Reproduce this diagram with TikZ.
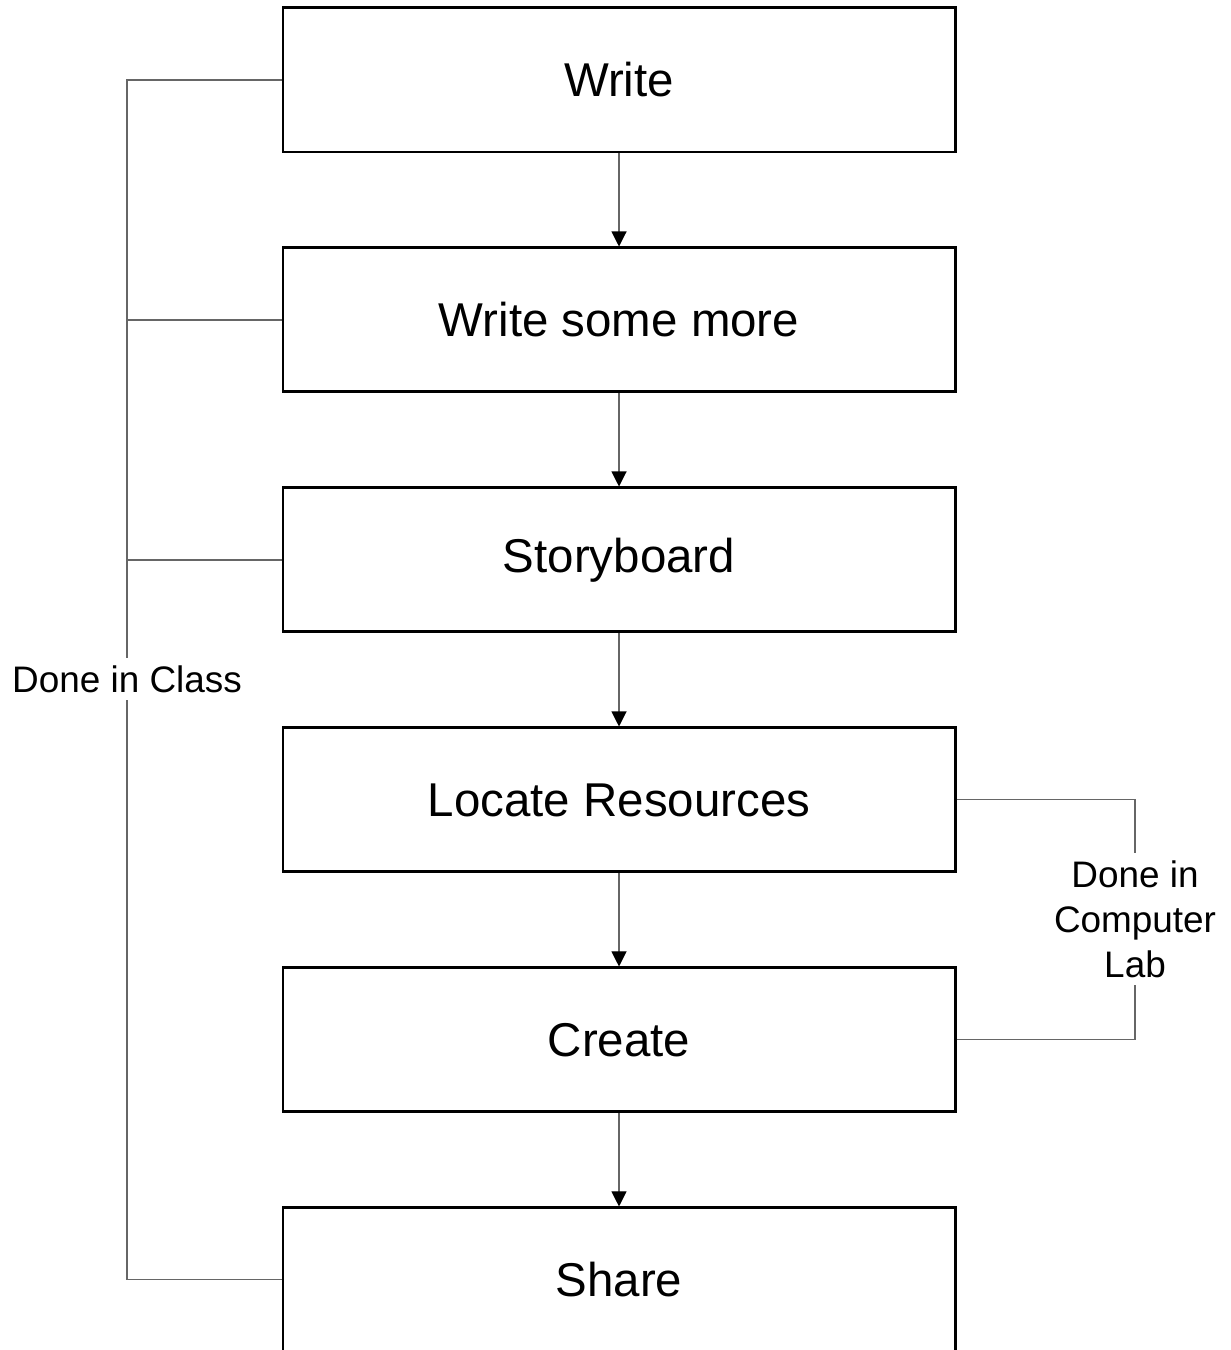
\documentclass[tikz,border=0pt]{standalone}
\usepackage{fontspec}
\setmainfont{Liberation Sans}
\usetikzlibrary{positioning, arrows.meta}
\tikzset{
  stepbox/.style={draw, line width=1.7pt, minimum width=13.44cm, minimum height=2.88cm, font=\fontsize{27}{32}\selectfont, inner sep=0pt},
  arr/.style={-{Triangle[length=0.3cm, width=0.3cm, color=black]}, line width=0.6pt, draw=black!60},
  brk/.style={line width=0.6pt, draw=black!60},
  lbl/.style={align=center, font=\fontsize{21}{25.6}\selectfont, inner sep=4pt}
}
\begin{document}
\begin{tikzpicture}[node distance=1.86cm]
  \useasboundingbox (0,0) rectangle (24.6,-27);
  \node[stepbox] (write) at (12.38,-1.6) {Write};
  \node[stepbox,below=of write] (more) {Write some more};
  \node[stepbox,below=of more] (story) {Storyboard};
  \node[stepbox,below=of story] (locate) {Locate Resources};
  \node[stepbox,below=of locate] (create) {Create};
  \node[stepbox,below=of create] (share) {Share};

  \node[lbl] (cls) at (2.54,-13.58) {Done in Class};
  \node[lbl] (lab) at (22.7,-18.38) {Done in\\Computer\\Lab};

  \draw[arr] (write) -- (more);
  \draw[arr] (more) -- (story);
  \draw[arr] (story) -- (locate);
  \draw[arr] (locate) -- (create);
  \draw[arr] (create) -- (share);

  \draw[brk] (write.west) -| (cls.north);
  \draw[brk] (share.west) -| (cls.south);
  \draw[brk] (more.west) -- (more.west -| cls);
  \draw[brk] (story.west) -- (story.west -| cls);
  \draw[brk] (locate.east) -| (lab.north);
  \draw[brk] (create.east) -| (lab.south);
\end{tikzpicture}
\end{document}
